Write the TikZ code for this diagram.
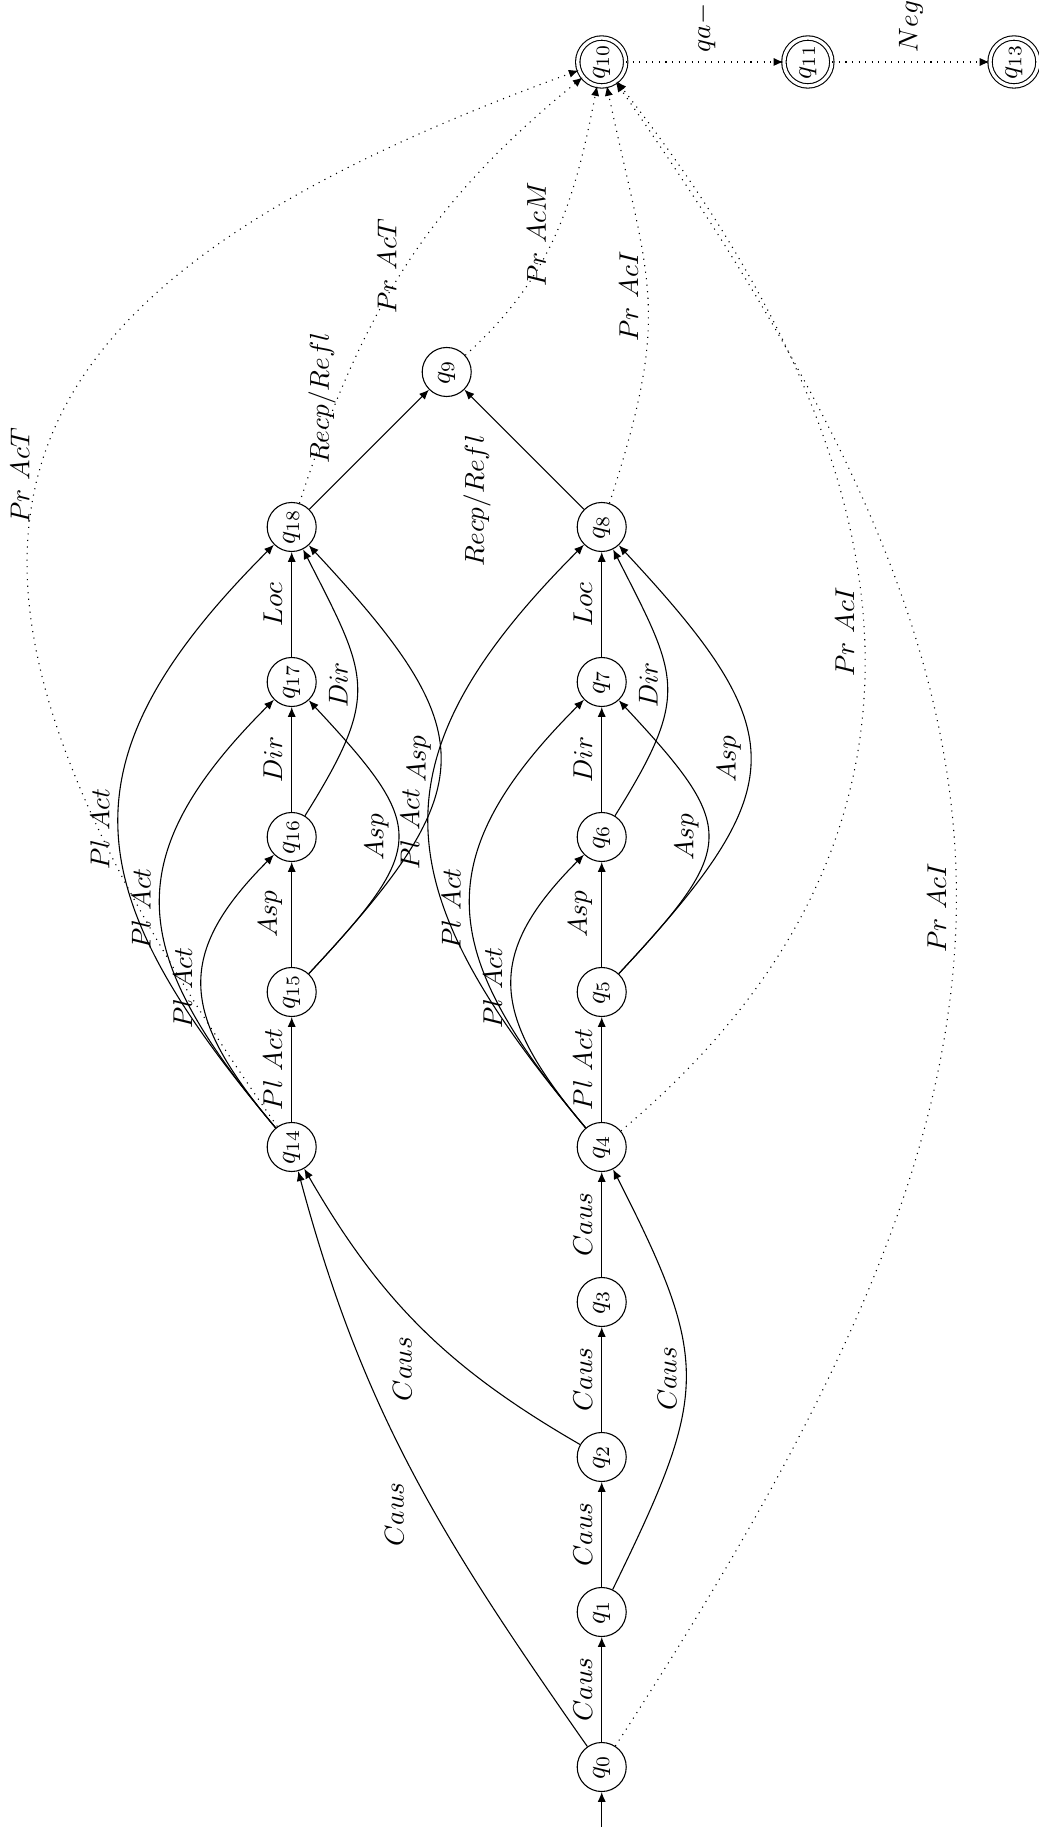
\documentclass[tikz,border=0pt]{standalone}
\usepackage{amsmath,amssymb}
\usepackage{tikz}
\usetikzlibrary{arrows.meta,positioning,calc}
\tikzset{
  qstate/.style={draw, circle, minimum size=18pt, inner sep=0pt},
  qfinal/.style={qstate, double, double distance=1.2pt, minimum size=17.6pt},
  arr/.style={-{Latex[length=3.6pt,width=3pt]}},
  darr/.style={arr, dotted},
  lab/.style={inner sep=3.3pt},
}
\begin{document}
\begin{tikzpicture}[rotate=90, transform shape]
        \useasboundingbox (-0.774,-5.64) rectangle (22.8,7.764);
        % lower row
        \node[qstate] (q0) at (0,0) {$q_0$};
        \node[qstate] (q1) at (2,0) {$q_1$};
        \node[qstate] (q2) at (4,0) {$q_2$};
        \node[qstate] (q3) at (6,0) {$q_3$};
        \node[qstate] (q4) at (8,0) {$q_4$};
        \node[qstate] (q5) at (10,0) {$q_5$};
        \node[qstate] (q6) at (12,0) {$q_6$};
        \node[qstate] (q7) at (14,0) {$q_7$};
        \node[qstate] (q8) at (16,0) {$q_8$};
        % upper row
        \node[qstate] (q14) at (8,4) {$q_{14}$};
        \node[qstate] (q15) at (10,4) {$q_{15}$};
        \node[qstate] (q16) at (12,4) {$q_{16}$};
        \node[qstate] (q17) at (14,4) {$q_{17}$};
        \node[qstate] (q18) at (16,4) {$q_{18}$};
        \node[qstate] (q9) at (18,2) {$q_9$};
        % final states
        \node[qfinal] (q10) at (22,0) {$q_{10}$};
        \node[qfinal] (q11) at (22,-2.66) {$q_{11}$};
        \node[qfinal] (q13) at (22,-5.32) {$q_{13}$};
        \coordinate (start) at (-0.9,0);

        \draw[arr] (start) -- (q0);
        \draw[arr] (q0) -- node[lab,above]{$Caus$} (q1); \draw[arr] (q1) -- node[lab,above]{$Caus$} (q2);
        \draw[arr] (q2) -- node[lab,above]{$Caus$} (q3); \draw[arr] (q3) -- node[lab,above]{$Caus$} (q4);
        \draw[arr] (q4) -- node[lab,above]{$Pl\ Act$} (q5); \draw[arr] (q5) -- node[lab,above]{$Asp$} (q6);
        \draw[arr] (q6) -- node[lab,above]{$Dir$} (q7); \draw[arr] (q7) -- node[lab,above]{$Loc$} (q8);
        \draw[arr] (q14) -- node[lab,above]{$Pl\ Act$} (q15); \draw[arr] (q15) -- node[lab,above]{$Asp$} (q16);
        \draw[arr] (q16) -- node[lab,above]{$Dir$} (q17); \draw[arr] (q17) -- node[lab,above]{$Loc$} (q18);
        \draw[arr] (q8) -- node[lab,above left,pos=.7]{$Recp/Refl$} (q9);
        \draw[arr] (q18) -- node[lab,above right,pos=.3]{$Recp/Refl$} (q9);

        % Caus shortcuts
        \draw[arr] (q0) to[out=35,in=195] node[lab,above left]{$Caus$} (q14);
        \draw[arr] (q2) to[out=60,in=210] node[lab,above left]{$Caus$} (q14);
        \draw[arr] (q1) to[out=-26,in=207,looseness=1.33] node[lab,above]{$Caus$} (q4);

        % Pl Act shortcuts
        \draw[arr] (q4) to[out=40,in=135,looseness=1.35] node[lab,above]{$Pl\ Act$} (q6);
        \draw[arr] (q4) to[out=40,in=135,looseness=1.35] node[lab,above]{$Pl\ Act$} (q7);
        \draw[arr] (q4) to[out=40,in=135,looseness=1.35] node[lab,above]{$Pl\ Act$} (q8);
        \draw[arr] (q14) to[out=40,in=135,looseness=1.35] node[lab,above]{$Pl\ Act$} (q16);
        \draw[arr] (q14) to[out=40,in=135,looseness=1.35] node[lab,above]{$Pl\ Act$} (q17);
        \draw[arr] (q14) to[out=40,in=135,looseness=1.35] node[lab,above]{$Pl\ Act$} (q18);

        % Asp / Dir shortcuts
        \draw[arr] (q5) to[out=-43,in=-137,looseness=1.64] node[lab,above]{$Asp$} (q7);
        \draw[arr] (q5) to[out=-43,in=-137,looseness=1.54] node[lab,above]{$Asp$} (q8);
        \draw[arr] (q6) to[out=-32,in=-153,looseness=1.38] node[lab,above]{$Dir$} (q8);
        \draw[arr] (q15) to[out=-43,in=-137,looseness=1.64] node[lab,above]{$Asp$} (q17);
        \draw[arr] (q15) to[out=-43,in=-137,looseness=1.54] node[lab,above]{$Asp$} (q18);
        \draw[arr] (q16) to[out=-32,in=-153,looseness=1.38] node[lab,above]{$Dir$} (q18);

        % prefixes
        \draw[darr] (q14) to[out=35,in=110,looseness=1.6] node[lab,above]{$Pr\ AcT$} (q10);
        \draw[darr] (q18) to[out=-18,in=129] node[lab,above]{$Pr\ AcT$} (q10);
        \draw[darr] (q9) to[out=-48,in=169] node[lab,above]{$Pr\ AcM$} (q10);
        \draw[darr] (q8) to[out=-18,in=192,looseness=1.25] node[lab,above]{$Pr\ AcI$} (q10);
        \draw[darr] (q4) to[out=-50,in=218,looseness=1.15] node[lab,above]{$Pr\ AcI$} (q10);
        \draw[darr] (q0) to[out=-33,in=215,looseness=1.25] node[lab,above]{$Pr\ AcI$} (q10);
        \draw[darr] (q10) -- node[lab,right]{$qa-$} (q11);
        \draw[darr] (q11) -- node[lab,right]{$Neg$} (q13);
      \end{tikzpicture}
\end{document}
